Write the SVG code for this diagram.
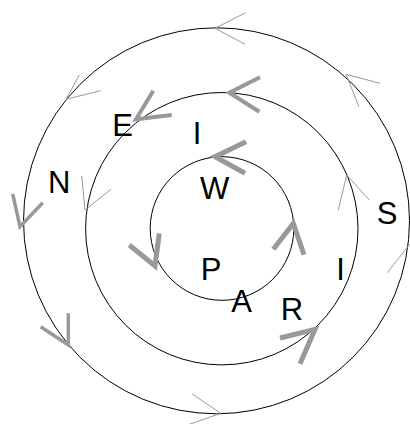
<svg xmlns="http://www.w3.org/2000/svg" width="410" height="424" viewBox="0 0 410 424">
<style>
.ring{fill:none;stroke:#000;stroke-width:1}
.a{fill:none;stroke:#999;stroke-linejoin:miter;stroke-linecap:butt}
.t1{stroke-width:1}
.t3{stroke-width:3.5}
.t4{stroke-width:4}
.t5{stroke-width:5}
.lbl{font-family:"Liberation Sans",Arial,sans-serif;font-size:31px;fill:#000;text-anchor:middle}
</style>
<rect width="410" height="424" fill="#fff"/>
<g id="outer-ring"><circle class="ring" cx="216.5" cy="220.8" r="193"/></g>
<g id="middle-ring"><circle class="ring" cx="221.8" cy="228.7" r="136.2"/></g>
<g id="inner-ring"><circle class="ring" cx="222" cy="228.5" r="71.8"/></g>
<g id="connectors">
<polyline class="a t1" points="245.7,12.7 215,28.3 245,44.3"/>
<polyline class="a t1" points="79.3,75 66,99.3 100.7,90.7"/>
<polyline class="a t1" points="380,83.3 346,74.3 359,106.7"/>
<polyline class="a t1" points="192.3,394 220.7,413.3 189,424.5"/>
<polyline class="a t1" points="387.3,272.7 409.5,244.5 432,272"/>
<polyline class="a t3" points="12.7,194 20,226.7 42.7,202.7"/>
<polyline class="a t3" points="68.3,313.3 68.3,345 40.7,326.7"/>
<polyline class="a t1" points="81.7,176 85,210 111,189.3"/>
<polyline class="a t1" points="369.3,200 346.7,175 338.3,210"/>
<polyline class="a t4" points="260,77.3 229.3,92.7 259.3,111.7"/>
<polyline class="a t4" points="153.3,90.7 136,119.3 171.7,115"/>
<polyline class="a t5" points="280,338 315,329.3 300,363.7"/>
<polyline class="a t5" points="246,141.7 215,156.7 245,173.3"/>
<polyline class="a t5" points="159.3,233.3 155,266 129.3,245"/>
<polyline class="a t5" points="273.3,249.3 293.3,223.5 304,254.7"/>
</g>
<g id="labels">
<text class="lbl" x="122.5" y="136">E</text>
<text class="lbl" x="197" y="144">I</text>
<text class="lbl" x="59.3" y="192.7">N</text>
<text class="lbl" x="214.7" y="199.3">W</text>
<text class="lbl" x="387" y="224">S</text>
<text class="lbl" x="211" y="280">P</text>
<text class="lbl" x="241.7" y="312">A</text>
<text class="lbl" x="292" y="320">R</text>
<text class="lbl" x="340.5" y="280">I</text>
</g>
</svg>
